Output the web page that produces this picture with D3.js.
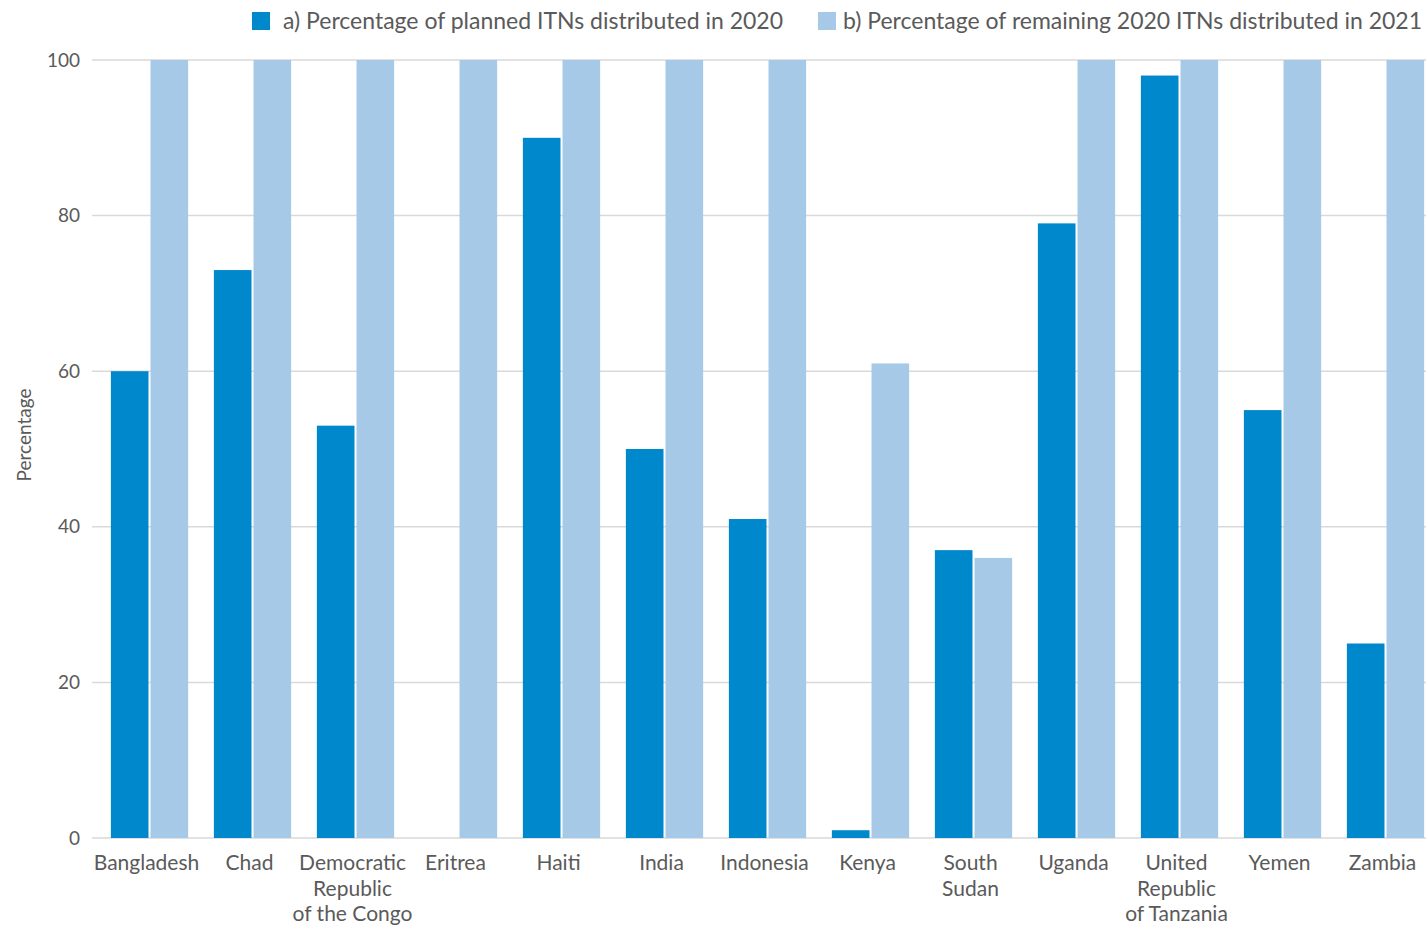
<!DOCTYPE html>
<html>
<head>
<meta charset="utf-8">
<script src="https://cdn.jsdelivr.net/npm/d3@7"></script>
<style>
  body { margin: 0; background: #fff; }
  text { font-family: Lato, "Open Sans", sans-serif; fill: #5a5a5a; }
</style>
</head>
<body>
<svg id="chart"></svg>
<script>
var countries = [
  ['Bangladesh'], ['Chad'], ['Democratic', 'Republic', 'of the Congo'], ['Eritrea'],
  ['Haiti'], ['India'], ['Indonesia'], ['Kenya'], ['South', 'Sudan'], ['Uganda'],
  ['United', 'Republic', 'of Tanzania'], ['Yemen'], ['Zambia']
];
var planned2020 = [60, 73, 53, 0, 90, 50, 41, 1, 37, 79, 98, 55, 25];
var remaining2021 = [100, 100, 100, 100, 100, 100, 100, 61, 36, 100, 100, 100, 100];
var seriesNames = [
  'a) Percentage of planned ITNs distributed in 2020',
  'b) Percentage of remaining 2020 ITNs distributed in 2021'
];
var yTicks = [0, 20, 40, 60, 80, 100];
var colors = ['#0088cc', '#a7c9e8'];

var width = 1426, height = 928;
var svg = d3.select('#chart').attr('width', width).attr('height', height);

var keys = countries.map(function(c){ return c.join(' '); });
var x = d3.scaleBand().domain(keys).range([98, 1437]).paddingInner(0.25).paddingOuter(0.125);
var xs = d3.scaleBand().domain([0, 1]).range([0, x.bandwidth()]);
var y = d3.scaleLinear().domain([0, 100]).range([838, 60]);

// grid
svg.append('g')
  .selectAll('line')
  .data(yTicks)
  .enter()
    .append('line')
      .attr('x1', 92).attr('x2', width)
      .attr('y1', function(d){ return y(d); })
      .attr('y2', function(d){ return y(d); })
      .attr('stroke', '#d9d9d9')
      .attr('stroke-width', 1.5);

// y tick labels
svg.append('g')
  .selectAll('text')
  .data(yTicks)
  .enter()
    .append('text')
      .attr('x', 80)
      .attr('y', function(d){ return y(d); })
      .attr('dy', '0.35em')
      .attr('text-anchor', 'end')
      .attr('font-size', 19)
      .text(function(d){ return d; });

svg.append('text')
  .attr('transform', 'translate(31,435) rotate(-90)')
  .attr('text-anchor', 'middle')
  .attr('font-size', 19)
  .text('Percentage');

// bars
var rows = keys.map(function(k, i){ return {key: k, vals: [planned2020[i], remaining2021[i]]}; });
var groups = svg.append('g')
  .selectAll('g')
  .data(rows)
  .enter()
    .append('g')
    .attr('transform', function(d){ return 'translate(' + x(d.key) + ',0)'; });

groups.selectAll('rect')
  .data(function(d){ return d.vals; })
  .enter()
    .append('rect')
      .attr('x', function(d, i){ return xs(i) + (i ? 1 : 0); })
      .attr('width', function(d, i){ return xs.bandwidth() - 1; })
      .attr('y', function(d){ return y(d); })
      .attr('height', function(d){ return y(0) - y(d); })
      .attr('fill', function(d, i){ return colors[i]; });

// category labels
var lbl = svg.append('g')
  .selectAll('text')
  .data(countries)
  .enter()
    .append('text')
      .attr('text-anchor', 'middle')
      .attr('font-size', 21)
      .attr('transform', function(d, i){ return 'translate(' + (x(keys[i]) + x.bandwidth() / 2 - 3) + ',870)'; });
lbl.selectAll('tspan')
  .data(function(d){ return d; })
  .enter()
    .append('tspan')
      .attr('x', 0)
      .attr('y', function(d, i){ return i * 25.5; })
      .text(function(d){ return d; });

// legend
var legendX = [252, 818], legendTextX = [283, 843];
var leg = svg.append('g')
  .selectAll('g')
  .data(seriesNames)
  .enter()
    .append('g');
leg.append('rect')
  .attr('x', function(d, i){ return legendX[i]; })
  .attr('y', 12)
  .attr('width', 18).attr('height', 18)
  .attr('fill', function(d, i){ return colors[i]; });
leg.append('text')
  .attr('x', function(d, i){ return legendTextX[i]; })
  .attr('y', 29)
  .attr('font-size', 23)
  .text(function(d){ return d; });
</script>
</body>
</html>
